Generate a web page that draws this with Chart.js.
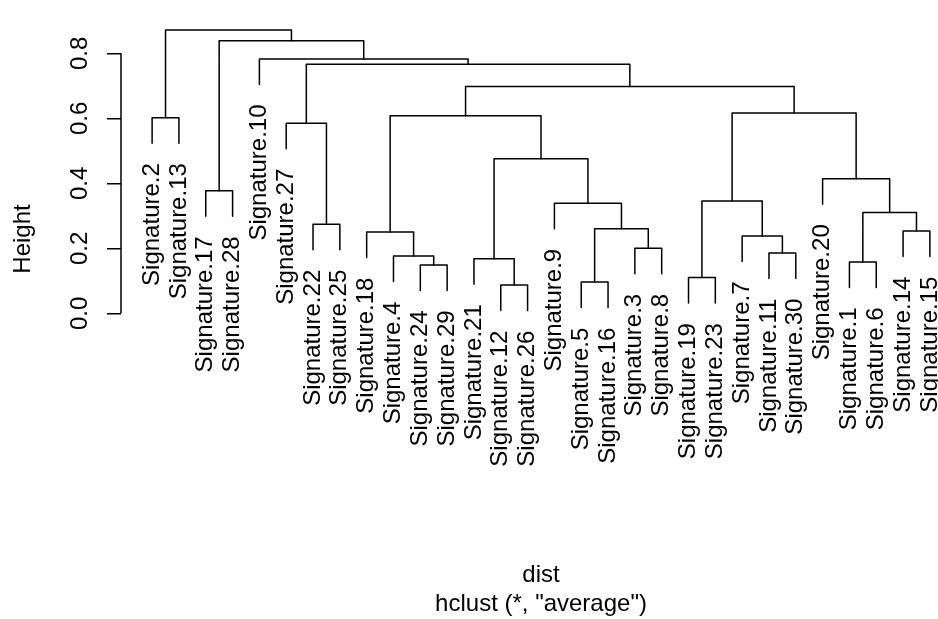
<!DOCTYPE html>
<html>
<head>
<meta charset="utf-8">
<script src="https://cdn.jsdelivr.net/npm/chart.js@4.4.1/dist/chart.umd.min.js"></script>
<style>
  html, body { margin: 0; padding: 0; background: #fff; overflow: hidden; }
  /* the R plot region runs a little past the right edge of the picture */
  #wrap { width: 938px; height: 619px; overflow: hidden; }
</style>
</head>
<body>
<div id="wrap"><canvas id="dendro" width="961" height="619"></canvas></div>
<script>
// order of the leaves along the x axis (observation numbers)
var leafOrder = [2, 13, 17, 28, 10, 27, 22, 25, 18, 4, 24, 29, 21, 12, 26, 9, 5, 16, 3, 8, 19, 23, 7, 11, 30, 20, 1, 6, 14, 15];
var labelPrefix = 'Signature.';

// hclust merge matrix: negative = observation, positive = earlier merge step
var mergeLeft  = [-12, -5, -19, -24, -1, -21, -4, -11, -3, -7, -18, -14, 2, -22, 5, -9, 3, -17, -20, 6, -27, -2, 11, 17, 23, 21, -10, 18, 22];
var mergeRight = [-26, -16, -23, -29, -6, 1, 4, -30, -8, 8, 7, -15, 9, -25, 12, 13, 10, -28, 15, 16, 14, -13, 20, 19, 24, 25, 26, 27, 28];
var mergeHeight = [0.087, 0.096, 0.110, 0.149, 0.158, 0.168, 0.176, 0.1855, 0.200, 0.238, 0.250, 0.253, 0.260, 0.274, 0.310,
                   0.3385, 0.3455, 0.377, 0.414, 0.4757, 0.585, 0.602, 0.608, 0.6163, 0.698, 0.766, 0.7825, 0.839, 0.872];

var yTicks = [0, 0.2, 0.4, 0.6, 0.8];
var yTitle = 'Height';
var xTitle = 'dist';
var subTitle = 'hclust (*, "average")';

var fontFamily = '"Liberation Sans", Arial, Helvetica, sans-serif';

// leaf -> x position
var leafPos = {};
leafOrder.forEach(function(obs, i){ leafPos[obs] = i + 1; });

// leaves hang 0.1 of the height range below their merge (R default hang = 0.1)
var hang = 0.1 * (Math.max.apply(null, mergeHeight) - Math.min.apply(null, mergeHeight));

var nodeX = [];
var leafBottom = {};
var datasets = [];

function childX(c){ return c < 0 ? leafPos[-c] : nodeX[c - 1]; }
function childY(c, h){ return c < 0 ? h - hang : mergeHeight[c - 1]; }

for (var i = 0; i < mergeHeight.length; i++)
{
    var a = mergeLeft[i], b = mergeRight[i], h = mergeHeight[i];
    // keep the left child on the left
    if (childX(a) > childX(b)) { var t = a; a = b; b = t; }
    var xa = childX(a), xb = childX(b);
    nodeX[i] = (xa + xb) / 2;
    if (a < 0) leafBottom[-a] = h - hang;
    if (b < 0) leafBottom[-b] = h - hang;

    datasets.push({
        data: [
            {x: xa, y: childY(a, h)},
            {x: xa, y: h},
            {x: xb, y: h},
            {x: xb, y: childY(b, h)}
        ],
        showLine: true,
        borderColor: '#000',
        borderWidth: 1.5,
        borderCapStyle: 'round',
        borderJoinStyle: 'round',
        pointRadius: 0,
        pointHoverRadius: 0,
        fill: false
    });
}

// leaf labels (rotated, ending just under each leaf) and the R style y axis line
var dendroExtras = {
    id: 'dendroExtras',
    afterDatasetsDraw: function(chart){
        var ctx = chart.ctx;
        var xs = chart.scales.x, ys = chart.scales.y;

        ctx.save();
        ctx.font = '24px ' + fontFamily;
        ctx.fillStyle = '#000';
        ctx.textAlign = 'right';
        ctx.textBaseline = 'middle';
        var gap = ctx.measureText('m').width;
        leafOrder.forEach(function(obs, i){
            var px = xs.getPixelForValue(i + 1);
            var py = ys.getPixelForValue(leafBottom[obs]) + gap;
            ctx.save();
            ctx.translate(px, py);
            ctx.rotate(-Math.PI / 2);
            ctx.fillText(labelPrefix + obs, 0, 0);
            ctx.restore();
        });

        // axis line only between first and last tick
        var ax = chart.chartArea.left;
        ctx.strokeStyle = '#000';
        ctx.lineWidth = 1.5;
        ctx.beginPath();
        ctx.moveTo(ax, ys.getPixelForValue(yTicks[0]));
        ctx.lineTo(ax, ys.getPixelForValue(yTicks[yTicks.length - 1]));
        ctx.stroke();
        ctx.restore();
    }
};

var ctxD = document.getElementById('dendro').getContext('2d');
var dendroChart = new Chart(ctxD, {
    type: 'scatter',
    data: { datasets: datasets },
    plugins: [dendroExtras],
    options: {
        responsive: false,
        animation: false,
        events: [],
        layout: { padding: { top: 12, right: 0, bottom: 0, left: 0 } },
        plugins: {
            legend: { display: false },
            tooltip: { enabled: false },
            title: { display: false }
        },
        scales: {
            x: {
                type: 'linear',
                min: -0.16,
                max: 31.16,
                ticks: { display: false },
                grid: { display: false },
                border: { display: false },
                title: {
                    display: true,
                    text: [xTitle, subTitle],
                    color: '#000',
                    font: { family: fontFamily, size: 24, lineHeight: 1.2 },
                    padding: { top: 0, bottom: 0 }
                },
                afterFit: function(scale){
                    scale.height = 153;
                    scale.paddingLeft = 0;
                    scale.paddingRight = 0;
                }
            },
            y: {
                type: 'linear',
                min: -0.4698,
                max: 0.9271,
                afterBuildTicks: function(scale){
                    scale.ticks = yTicks.map(function(v){ return {value: v}; });
                },
                ticks: {
                    minRotation: 90,
                    maxRotation: 90,
                    crossAlign: 'center',
                    padding: 9.5,
                    color: '#000',
                    font: { family: fontFamily, size: 24 },
                    callback: function(v){ return v.toFixed(1); }
                },
                grid: {
                    drawOnChartArea: false,
                    drawTicks: true,
                    tickLength: 14,
                    color: '#000',
                    lineWidth: 1.5
                },
                border: { display: false },
                title: {
                    display: true,
                    text: yTitle,
                    color: '#000',
                    font: { family: fontFamily, size: 24 },
                    padding: { top: 9, bottom: 0 }
                },
                afterFit: function(scale){
                    scale.width = 121;
                    scale.paddingTop = 0;
                    scale.paddingBottom = 0;
                }
            }
        }
    }
});
</script>
</body>
</html>
